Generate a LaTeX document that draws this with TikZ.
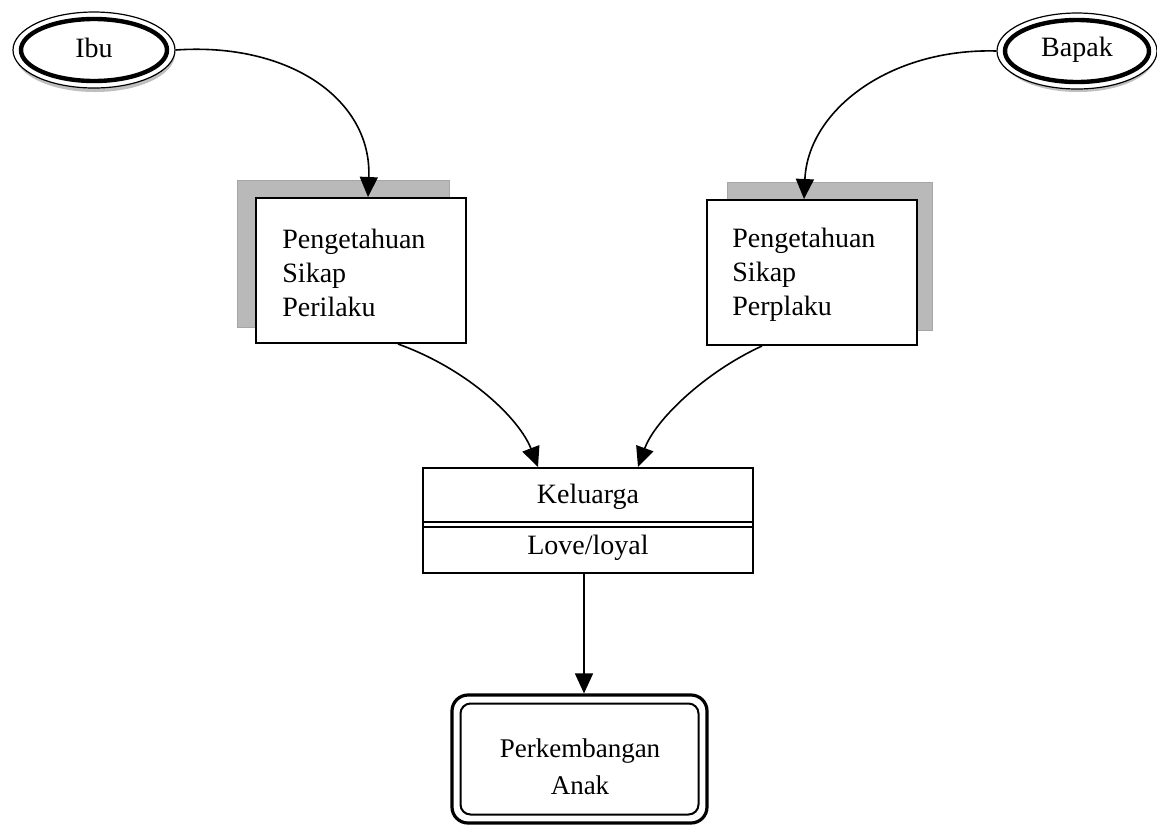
\documentclass[tikz,border=0pt]{standalone}
\usepackage{fontspec}
\setmainfont{Liberation Serif}
\usetikzlibrary{arrows.meta,shapes.geometric}
\begin{document}
\begin{tikzpicture}[x=0.5pt,y=-0.5pt,
  txt/.style={font=\fontsize{14}{17}\selectfont, inner sep=0pt},
  ovalout/.style={ellipse, draw, line width=0.6pt, fill=white, inner sep=0pt},
  ovalin/.style={ellipse, draw, line width=2.2pt, inner sep=0pt},
  boxm/.style={draw, line width=1pt, fill=white, inner sep=0pt},
  shade/.style={fill=gray!55, draw=gray!70, line width=0.4pt},
  conn/.style={line width=0.8pt, -{Triangle[length=10pt,width=9pt]}},
]
\useasboundingbox (0,0) rectangle (1157,832);
\fill[white] (0,0) rectangle (1157,832);

% ---- Ibu ----
\fill[gray!50] (95,54) ellipse [x radius=80, y radius=38];
\node[ovalout, minimum width=81pt, minimum height=38pt] (ibu) at (94,50) {};
\node[ovalin, minimum width=73pt, minimum height=31pt] (ibuin) at (94,50) {};
\node[txt] (ibut) at (94,48) {Ibu};

% ---- Bapak ----
\fill[gray!50] (1078,54) ellipse [x radius=78, y radius=38];
\node[ovalout, minimum width=80pt, minimum height=38pt] (bapak) at (1077,51) {};
\node[ovalin, minimum width=72pt, minimum height=31pt] (bapakin) at (1077,51) {};
\node[txt] (bapakt) at (1077,50) {Bapak};

% ---- left box ----
\fill[shade] (237,180) rectangle (449,327);
\node[boxm, minimum width=105pt, minimum height=72.5pt] (lbox) at (361,270.5) {};
\node[txt, align=left, anchor=west] (ltext) at (282,273) {Pengetahuan\\Sikap\\Perilaku};

% ---- right box ----
\fill[shade] (727,182) rectangle (932,330);
\node[boxm, minimum width=105pt, minimum height=72.5pt] (rbox) at (812,272.5) {};
\node[txt, align=left, anchor=west] (rtext) at (732,275) {Pengetahuan\\Sikap\\Perplaku};

% ---- Keluarga ----
\node[boxm, minimum width=165pt, minimum height=52.5pt] (kel) at (588,520.5) {};
\draw[line width=0.9pt] (kel.west |- 0,522) -- (kel.east |- 0,522);
\draw[line width=0.9pt] (kel.west |- 0,527) -- (kel.east |- 0,527);
\node[txt] (kelt) at (588,497) {Keluarga};
\node[txt] (lovet) at (588,548) {Love/loyal};

% ---- Perkembangan ----
\node[draw, line width=1.6pt, rounded corners=8pt, minimum width=127.5pt, minimum height=64pt, inner sep=0pt] (perk) at (579.5,759) {};
\node[draw, line width=1pt, rounded corners=5pt, minimum width=119pt, minimum height=55.5pt, inner sep=0pt] (perkin) at (579.5,759) {};
\node[txt, font=\fontsize{13.5}{18.5}\selectfont, align=center] (perkt) at (580,767) {Perkembangan\\Anak};

% ---- connectors ----
\coordinate (a1) at (368,198);
\draw[conn] (ibu.east) .. controls (290,42) and (372,100) .. (lbox.north -| a1);
\coordinate (a2) at (804,200);
\draw[conn] (bapak.west) .. controls (890,48) and (808,110) .. (rbox.north -| a2);
\coordinate (b1) at (398,343);
\coordinate (b2) at (538,468);
\draw[conn] (lbox.south -| b1) .. controls (470,370) and (520,420) .. (kel.north -| b2);
\coordinate (c1) at (762,345);
\coordinate (c2) at (638,468);
\draw[conn] (rbox.south -| c1) .. controls (705,372) and (655,420) .. (kel.north -| c2);
\draw[conn] (kel.south -| 584,0) -- (perk.north -| 584,0);
\end{tikzpicture}
\end{document}
